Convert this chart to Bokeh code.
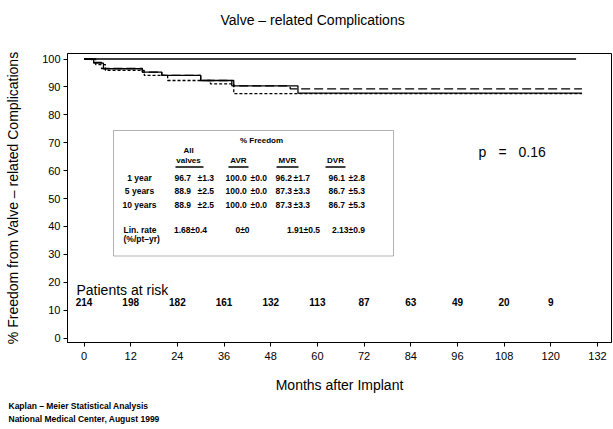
from bokeh.plotting import figure
from bokeh.models import Label, BoxAnnotation, Range1d, FixedTicker, ColumnDataSource, Title
from bokeh.core.properties import value
from bokeh.embed import file_html
from bokeh.resources import INLINE

# ---------------- data ----------------
x_ticks = [0, 12, 24, 36, 48, 60, 72, 84, 96, 108, 120, 132]
y_ticks = [0, 10, 20, 30, 40, 50, 60, 70, 80, 90, 100]

avr_months = [0, 126.5]
avr_surv = [100, 100]
all_months = [0, 2.5, 5, 15, 20, 30, 38.5, 55, 128]
all_surv = [100, 98.5, 96.5, 95.3, 94.1, 92.3, 90.4, 87.8, 87.8]
mvr_months = [0, 2, 4.5, 15, 20, 30, 38, 53, 128]
mvr_surv = [100, 98.8, 96.6, 95.3, 94.1, 92.3, 90.4, 89.3, 89.3]
dvr_months = [0, 3, 5.5, 15.5, 21.5, 32.5, 38.5, 128]
dvr_surv = [100, 98, 95.9, 94.1, 92.3, 91.1, 87.6, 87.6]

risk_months = [0, 12, 24, 36, 48, 60, 72, 84, 96, 108, 120]
risk_counts = [214, 198, 182, 161, 132, 113, 87, 63, 49, 20, 9]

table_rows = ["1 year", "5 years", "10 years"]
col_headers = ["valves", "AVR", "MVR", "DVR"]
est_all = ["96.7", "88.9", "88.9"]
se_all = ["\u00b11.3", "\u00b12.5", "\u00b12.5"]
est_avr = ["100.0", "100.0", "100.0"]
se_avr = ["\u00b10.0", "\u00b10.0", "\u00b10.0"]
est_mvr = ["96.2", "87.3", "87.3"]
se_mvr = ["\u00b11.7", "\u00b13.3", "\u00b13.3"]
est_dvr = ["96.1", "86.7", "86.7"]
se_dvr = ["\u00b12.8", "\u00b15.3", "\u00b15.3"]
lin_rates = ["1.68\u00b10.4", "0\u00b10", "1.91\u00b10.5", "2.13\u00b10.9"]
p_value = "0.16"

FONT = "Liberation Sans"

# pixel (image) -> data helpers, used only for annotation placement
def X(px):
    return (px - 83.5) / 3.89

def Y(py):
    return (337.5 - py) / 2.79

p = figure(width=613, height=429, output_backend="svg", toolbar_location=None,
           x_range=Range1d(X(67), X(611)), y_range=Range1d(Y(342), Y(53)),
           min_border_left=67, min_border_right=2, min_border_top=53, min_border_bottom=87)
p.outline_line_color = "black"
p.outline_line_width = 1
p.xgrid.visible = False
p.ygrid.visible = False
p.background_fill_color = "white"
p.border_fill_color = "white"
p.title.text = ""

# spacer + main title in the top panel
p.add_layout(Title(text=" ", standoff=0, text_font=FONT, text_font_size="14px"), "above")
p.add_layout(Title(text="Valve \u2013 related Complications", align="left", offset=153,
                   standoff=15, text_font=FONT, text_font_size="14px",
                   text_font_style="normal", text_color="black"), "above")

for ax in (p.xaxis[0], p.yaxis[0]):
    ax.axis_line_color = "black"
    ax.major_tick_line_color = "black"
    ax.minor_tick_line_color = None
    ax.major_tick_in = 0
    ax.major_tick_out = 4
    ax.major_label_text_font = FONT
    ax.major_label_text_font_size = "11px"
    ax.major_label_text_color = "black"
    ax.axis_label_text_font = FONT
    ax.axis_label_text_font_size = "14px"
    ax.axis_label_text_font_style = "normal"
    ax.axis_label_text_color = "black"

p.xaxis.ticker = FixedTicker(ticks=x_ticks)
p.yaxis.ticker = FixedTicker(ticks=y_ticks)
p.xaxis.major_label_standoff = 5
p.yaxis.major_label_standoff = 3
p.xaxis.axis_label = "Months after Implant"
p.yaxis.axis_label = "% Freedom from Valve \u2013 related Complications"
p.xaxis.axis_label_standoff = 14
p.yaxis.axis_label_standoff = 18

# footer lines (below the x axis)
for txt, so in [("Kaplan \u2013 Meier Statistical Analysis", 6),
                ("National Medical Center, August 1999", -3)]:
    p.add_layout(Title(text=txt, align="left", offset=-59, standoff=so, text_font=FONT,
                       text_font_size="8.5px", text_font_style="bold", text_color="black"),
                 "below")

# curves
p.step(avr_months, avr_surv, mode="after", line_color="black", line_width=1.3)
p.step(all_months, all_surv, mode="after", line_color="black", line_width=1.3)
p.step(mvr_months, mvr_surv, mode="after", line_color="black", line_width=1.3, line_dash="9 4")
p.step(dvr_months, dvr_surv, mode="after", line_color="black", line_width=1.3, line_dash="3 2")

def lab(px, py, text, size="8px", style="bold", align="center"):
    p.add_layout(Label(x=X(px), y=Y(py), text=text, text_font=FONT,
                       text_font_size=size, text_font_style=style, text_align=align,
                       text_baseline="middle", text_color="black"))

# table box
p.add_layout(BoxAnnotation(left=X(113), right=X(393), top=Y(130), bottom=Y(255.5),
                           fill_color=None, line_color="black", line_width=1))
lab(261, 140, "% Freedom")
lab(188, 150, "All")
head_x = [188, 238, 287, 335]
ul = [(175, 203), (228, 248), (276, 298), (325, 345)]
for hx, h, (a, b) in zip(head_x, col_headers, ul):
    lab(hx, 160, h)
    p.segment(x0=X(a), y0=Y(166.5), x1=X(b), y1=Y(166.5), line_color="black", line_width=1.5)

row_y = [177, 190.5, 204]
est_x = [174, 225, 275, 328]
se_x = [197, 250, 293, 348]
cols = [(est_all, se_all), (est_avr, se_avr), (est_mvr, se_mvr), (est_dvr, se_dvr)]
for i, ry in enumerate(row_y):
    lab(139, ry, table_rows[i], size="8.5px")
    for ex, sx, (est, se) in zip(est_x, se_x, cols):
        lab(ex, ry, est[i], size="8.5px", align="left")
        lab(sx, ry, se[i], size="8.5px", align="left")
lab(123, 229, "Lin. rate", size="8.5px", align="left")
lab(123, 238, "(%/pt\u2013yr)", size="8.5px", align="left")
for cx, t in zip([190, 242, 303, 348], lin_rates):
    lab(cx, 229.5, t, size="8.5px")

# p-value
lab(478, 151, "p", size="14px", style="normal", align="left")
lab(498, 151, "=", size="14px", style="normal", align="left")
lab(518, 151, p_value, size="14px", style="normal", align="left")

# patients at risk
lab(76, 289, "Patients at risk", size="14px", style="normal", align="left")
src = ColumnDataSource(dict(x=risk_months, y=[Y(301.5)] * len(risk_months),
                            t=[str(c) for c in risk_counts]))
p.text(x="x", y="y", text="t", source=src, text_font=value(FONT), text_font_size="10px",
       text_font_style="bold", text_align="center", text_baseline="middle", text_color="black")

open("out.html", "w").write(file_html(p, INLINE))
